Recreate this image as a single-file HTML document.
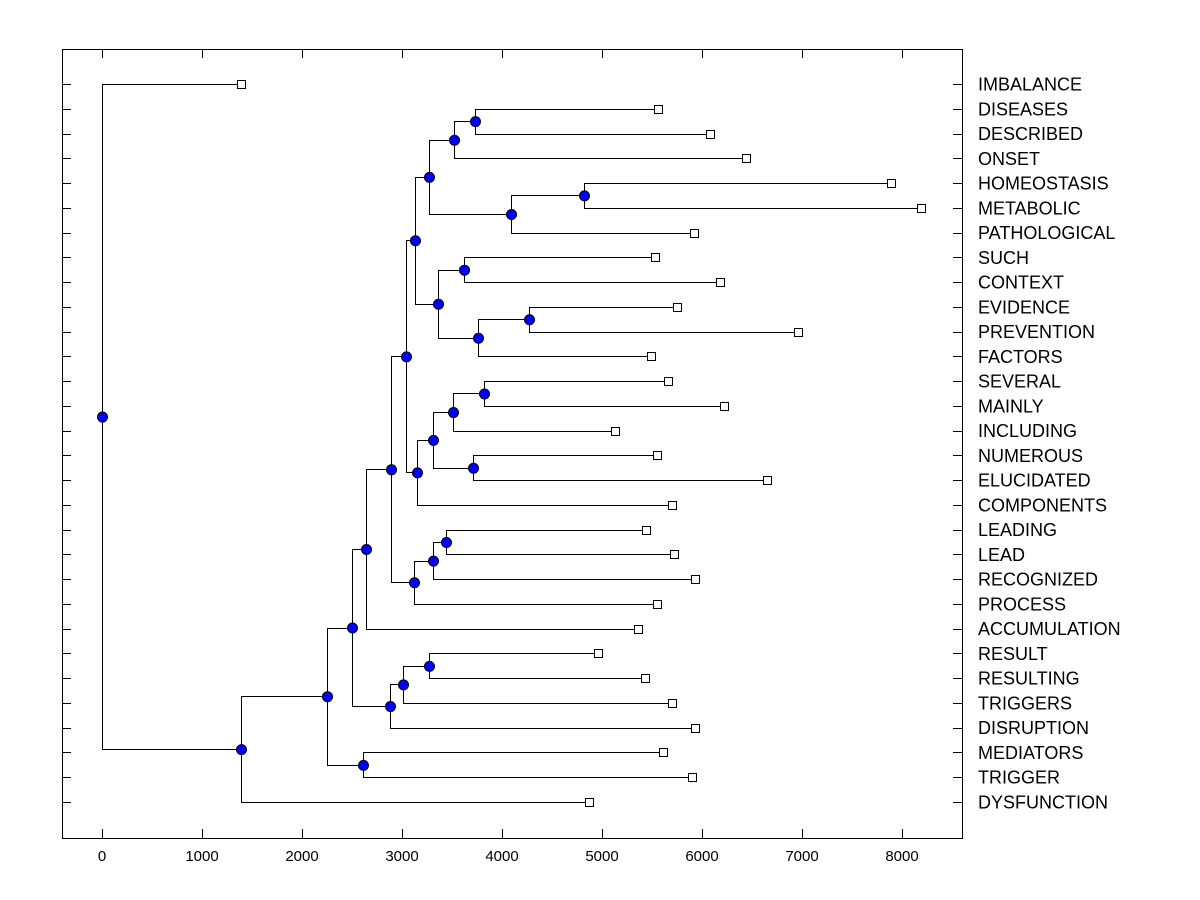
<!DOCTYPE html>
<html><head><meta charset="utf-8"><style>
html,body{margin:0;padding:0;background:#fff}
svg{display:block}
text{font-family:"Liberation Sans",sans-serif;fill:#000}
</style></head><body>
<svg id="chart" width="1200" height="900"></svg>
<script>
const leafLabels=["IMBALANCE","DISEASES","DESCRIBED","ONSET","HOMEOSTASIS","METABOLIC","PATHOLOGICAL","SUCH","CONTEXT","EVIDENCE","PREVENTION","FACTORS","SEVERAL","MAINLY","INCLUDING","NUMEROUS","ELUCIDATED","COMPONENTS","LEADING","LEAD","RECOGNIZED","PROCESS","ACCUMULATION","RESULT","RESULTING","TRIGGERS","DISRUPTION","MEDIATORS","TRIGGER","DYSFUNCTION"];
const leafValues=[1390,5560,6080,6440,7890,8190,5920,5530,6180,5750,6960,5490,5660,6220,5130,5550,6650,5700,5440,5720,5930,5550,5360,4960,5430,5700,5930,5610,5900,4870];
// merges: [childA, childB, height]; leaf refs "Ln", node refs "Nn"
const merges=[
["L1","L2",3730],["N0","L3",3520],["L4","L5",4820],["N2","L6",4090],["N1","N3",3270],
["L7","L8",3620],["L9","L10",4270],["N6","L11",3760],["N5","N7",3360],["N4","N8",3130],
["L12","L13",3820],["N10","L14",3510],["L15","L16",3710],["N11","N12",3310],["N13","L17",3150],
["N9","N14",3040],["L18","L19",3440],["N16","L20",3310],["N17","L21",3120],["N15","N18",2890],
["N19","L22",2640],["L23","L24",3270],["N21","L25",3010],["N22","L26",2880],["N20","N23",2500],
["L27","L28",2610],["N25","N24",2250],["N26","L29",1390],["L0","N27",0]];
const xTicks=[0,1000,2000,3000,4000,5000,6000,7000,8000];

const svg=document.getElementById('chart');
const NS='http://www.w3.org/2000/svg';
const L=62,R=962,T=49,B=838;
const xS=v=>102+v*0.1;
const yS=i=>84+i*(802-84)/29;
function mk(tag,attrs,parent){const e=document.createElementNS(NS,tag);for(const k in attrs)e.setAttribute(k,attrs[k]);(parent||svg).appendChild(e);return e;}

const frame=mk('rect',{x:L+0.5,y:T+0.5,width:R-L,height:B-T,fill:'none',stroke:'#000','stroke-width':1});



const xg=mk('g',{});


xTicks.forEach(v=>{
  const x=xS(v)+0.5;
  mk('line',{x1:x,y1:B,x2:x,y2:B-9,stroke:'#000'},xg);
  mk('line',{x1:x,y1:T,x2:x,y2:T+9,stroke:'#000'},xg);
  const t=mk('text',{x:xS(v),y:861,'text-anchor':'middle','font-size':15},xg);
  t.textContent=v;
  
  
});

const yg=mk('g',{});


leafLabels.forEach((lab,i)=>{
  const y=Math.round(yS(i))+0.5;
  mk('line',{x1:L,y1:y,x2:L+9,y2:y,stroke:'#000'},yg);
  mk('line',{x1:R,y1:y,x2:R-9,y2:y,stroke:'#000'},yg);
  const t=mk('text',{x:978,y:yS(i)+6.5,'font-size':18},yg);
  t.textContent=lab;
  
  
});

const nodes=[];
function pos(ref){const n=+ref.slice(1);return ref[0]==='L'?{x:leafValues[n],y:yS(n)}:nodes[n];}
const lg=mk('g',{});


merges.forEach(m=>{
  const a=pos(m[0]),b=pos(m[1]);
  const px=Math.round(xS(m[2]))+0.5;
  const ya=Math.round(a.y)+0.5,yb=Math.round(b.y)+0.5;
  mk('path',{d:`M${Math.round(xS(a.x))} ${ya}H${px}V${yb}H${Math.round(xS(b.x))}`,fill:'none',stroke:'#000'},lg);
  nodes.push({x:m[2],y:(a.y+b.y)/2});
});
leafLabels.forEach((lab,i)=>{
  const s=mk('rect',{x:Math.round(xS(leafValues[i]))-4+0.5,y:Math.round(yS(i))-4+0.5,width:8,height:8,fill:'#fff',stroke:'#000'});
  
  
});
nodes.forEach(n=>{
  const c=mk('circle',{cx:xS(n.x)+0.5,cy:n.y+0.5,r:5,fill:'#0000ff',stroke:'#000','stroke-width':1});
  
  
});
</script>
</body></html>
